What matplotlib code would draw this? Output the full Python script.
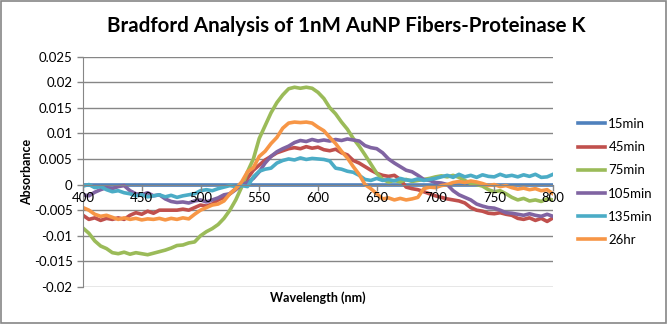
import numpy as np
import matplotlib
matplotlib.use('Agg')
import matplotlib.pyplot as plt
import matplotlib.ticker as ticker
from matplotlib.patches import Rectangle

plt.rcParams['font.family'] = ['Lato', 'DejaVu Sans']

# wavelength grid (nm), values every 5 nm
wavelength = np.arange(400, 801, 5)

abs_15min = [0.0] * len(wavelength)

abs_45min = [
    -0.0060, -0.0068, -0.0065, -0.0070, -0.0066, -0.0068, -0.0065, -0.0068, -0.0060, -0.0055,
    -0.0058, -0.0052, -0.0056, -0.0050, -0.0050, -0.0050, -0.0050, -0.0048, -0.0050, -0.0045,
    -0.0040, -0.0042, -0.0038, -0.0030, -0.0025, -0.0018, -0.0008, 0.0000, 0.0012, 0.0028,
    0.0038, 0.0048, 0.0055, 0.0062, 0.0066, 0.0070, 0.0072, 0.0070, 0.0074, 0.0071,
    0.0073, 0.0068, 0.0066, 0.0069, 0.0062, 0.0058, 0.0047, 0.0042, 0.0035, 0.0028,
    0.0022, 0.0018, 0.0016, 0.0018, 0.0010, -0.0005, -0.0008, -0.0010, -0.0014, -0.0018,
    -0.0022, -0.0025, -0.0028, -0.0030, -0.0032, -0.0036, -0.0045, -0.0050, -0.0052, -0.0056,
    -0.0057, -0.0055, -0.0058, -0.0060, -0.0066, -0.0068, -0.0065, -0.0070, -0.0066, -0.0072,
    -0.0065]

abs_75min = [
    -0.0085, -0.0095, -0.0110, -0.0120, -0.0125, -0.0133, -0.0135, -0.0132, -0.0136, -0.0133,
    -0.0135, -0.0137, -0.0134, -0.0131, -0.0128, -0.0124, -0.0119, -0.0118, -0.0114, -0.0112,
    -0.0100, -0.0092, -0.0086, -0.0078, -0.0066, -0.0050, -0.0030, -0.0005, 0.0025, 0.0050,
    0.0090, 0.0115, 0.0140, 0.0160, 0.0175, 0.0187, 0.0190, 0.0188, 0.0190, 0.0188,
    0.0180, 0.0168, 0.0150, 0.0138, 0.0122, 0.0108, 0.0090, 0.0075, 0.0058, 0.0040,
    0.0022, 0.0010, 0.0005, 0.0008, 0.0005, 0.0010, 0.0006, 0.0008, 0.0010, 0.0012,
    0.0015, 0.0017, 0.0015, 0.0018, 0.0014, 0.0008, 0.0002, 0.0000, -0.0003, -0.0010,
    -0.0014, -0.0012, -0.0018, -0.0025, -0.0030, -0.0027, -0.0032, -0.0030, -0.0033, -0.0028,
    -0.0030]

abs_105min = [
    -0.0020, -0.0022, -0.0015, -0.0010, -0.0006, -0.0008, -0.0004, -0.0002, -0.0012, -0.0018,
    -0.0020, -0.0016, -0.0022, -0.0020, -0.0028, -0.0033, -0.0035, -0.0034, -0.0036, -0.0032,
    -0.0030, -0.0034, -0.0030, -0.0026, -0.0020, -0.0018, -0.0010, 0.0000, 0.0004, 0.0012,
    0.0025, 0.0042, 0.0055, 0.0064, 0.0070, 0.0075, 0.0082, 0.0086, 0.0084, 0.0088,
    0.0085, 0.0087, 0.0085, 0.0088, 0.0086, 0.0089, 0.0087, 0.0085, 0.0076, 0.0072,
    0.0070, 0.0062, 0.0050, 0.0042, 0.0035, 0.0028, 0.0025, 0.0018, 0.0010, 0.0008,
    0.0004, 0.0003, 0.0000, -0.0012, -0.0020, -0.0025, -0.0030, -0.0038, -0.0042, -0.0045,
    -0.0046, -0.0050, -0.0055, -0.0056, -0.0058, -0.0060, -0.0057, -0.0060, -0.0062, -0.0058,
    -0.0062]

abs_135min = [
    -0.0003, 0.0000, -0.0006, -0.0004, -0.0010, -0.0014, -0.0012, -0.0016, -0.0018, -0.0022,
    -0.0020, -0.0024, -0.0022, -0.0020, -0.0024, -0.0021, -0.0025, -0.0022, -0.0020, -0.0018,
    -0.0012, -0.0010, -0.0012, -0.0008, -0.0005, -0.0002, -0.0004, -0.0002, -0.0004, 0.0015,
    0.0026, 0.0030, 0.0032, 0.0042, 0.0047, 0.0050, 0.0048, 0.0052, 0.0049, 0.0051,
    0.0050, 0.0049, 0.0046, 0.0032, 0.0030, 0.0026, 0.0024, 0.0018, 0.0010, 0.0008,
    0.0012, 0.0008, 0.0010, 0.0007, 0.0012, 0.0009, 0.0008, 0.0011, 0.0008, 0.0010,
    0.0012, 0.0015, 0.0018, 0.0014, 0.0020, 0.0015, 0.0018, 0.0014, 0.0019, 0.0016,
    0.0015, 0.0020, 0.0016, 0.0018, 0.0015, 0.0019, 0.0016, 0.0020, 0.0014, 0.0015,
    0.0020]

abs_26hr = [
    -0.0045, -0.0050, -0.0058, -0.0062, -0.0060, -0.0064, -0.0068, -0.0065, -0.0068, -0.0066,
    -0.0069, -0.0067, -0.0068, -0.0066, -0.0069, -0.0066, -0.0068, -0.0065, -0.0067, -0.0058,
    -0.0050, -0.0045, -0.0040, -0.0038, -0.0032, -0.0018, -0.0008, 0.0005, 0.0025, 0.0033,
    0.0055, 0.0065, 0.0080, 0.0092, 0.0110, 0.0120, 0.0122, 0.0121, 0.0122, 0.0120,
    0.0112, 0.0105, 0.0092, 0.0080, 0.0065, 0.0052, 0.0035, 0.0020, 0.0000, -0.0008,
    -0.0018, -0.0028, -0.0026, -0.0030, -0.0027, -0.0030, -0.0028, -0.0025, -0.0008, -0.0005,
    -0.0006, -0.0002, 0.0000, 0.0004, 0.0006, 0.0004, 0.0007, 0.0005, 0.0002, -0.0002,
    0.0000, -0.0004, -0.0002, -0.0006, -0.0009, -0.0007, -0.0010, -0.0008, -0.0012, -0.0010,
    -0.0018]

series_labels = ['15min', '45min', '75min', '105min', '135min', '26hr']
series_values = [abs_15min, abs_45min, abs_75min, abs_105min, abs_135min, abs_26hr]
colors = ['#4F81BD', '#C0504D', '#9BBB59', '#8064A2', '#4BACC6', '#F79646']

fig = plt.figure(figsize=(6.67, 3.24), dpi=100)
ax = fig.add_axes([83 / 667, 37 / 324, 470 / 667, 230.5 / 324])

for label, vals, c in zip(series_labels, series_values, colors):
    ax.plot(wavelength, vals, color=c, lw=2.6, label=label)

ax.set_xlim(400, 800)
ax.set_ylim(-0.02, 0.025)
ax.xaxis.set_major_locator(ticker.MultipleLocator(50))
ax.yaxis.set_major_locator(ticker.MultipleLocator(0.005))
ax.yaxis.set_major_formatter(ticker.FuncFormatter(lambda v, p: '%g' % round(v, 4)))
ax.grid(axis='y', color='#868686', lw=1)
ax.set_axisbelow(True)

for s in ['top', 'right']:
    ax.spines[s].set_visible(False)
ax.spines['bottom'].set_position(('data', 0))
ax.spines['bottom'].set_color('#868686')
ax.spines['left'].set_color('#868686')
ax.tick_params(axis='both', colors='#868686', labelcolor='black', labelsize=9.5, length=4, width=1)
ax.tick_params(axis='x', pad=1)
ax.xaxis.set_zorder(3)

fig.text(346 / 667, 1 - 26 / 324, 'Bradford Analysis of 1nM AuNP Fibers-Proteinase K',
         ha='center', va='center', fontsize=14.8, fontweight='bold')
fig.text(318 / 667, 1 - 298 / 324, 'Wavelength (nm)', ha='center', va='center',
         fontsize=9, fontweight='bold')
fig.text(27 / 667, 1 - 172 / 324, 'Absorbance', ha='center', va='center',
         rotation=90, fontsize=9, fontweight='bold')

fig.legend(loc='upper left', bbox_to_anchor=(578 / 667, 1 - 118 / 324), frameon=False,
           fontsize=9.5, handlelength=2.05, handletextpad=0.25, labelspacing=0.85,
           borderaxespad=0, borderpad=0)

fig.patches.append(Rectangle((0.001, 0.002), 0.997, 0.995, transform=fig.transFigure,
                             fill=False, edgecolor='#868686', lw=1.2))

fig.savefig('out.png', dpi=100)
